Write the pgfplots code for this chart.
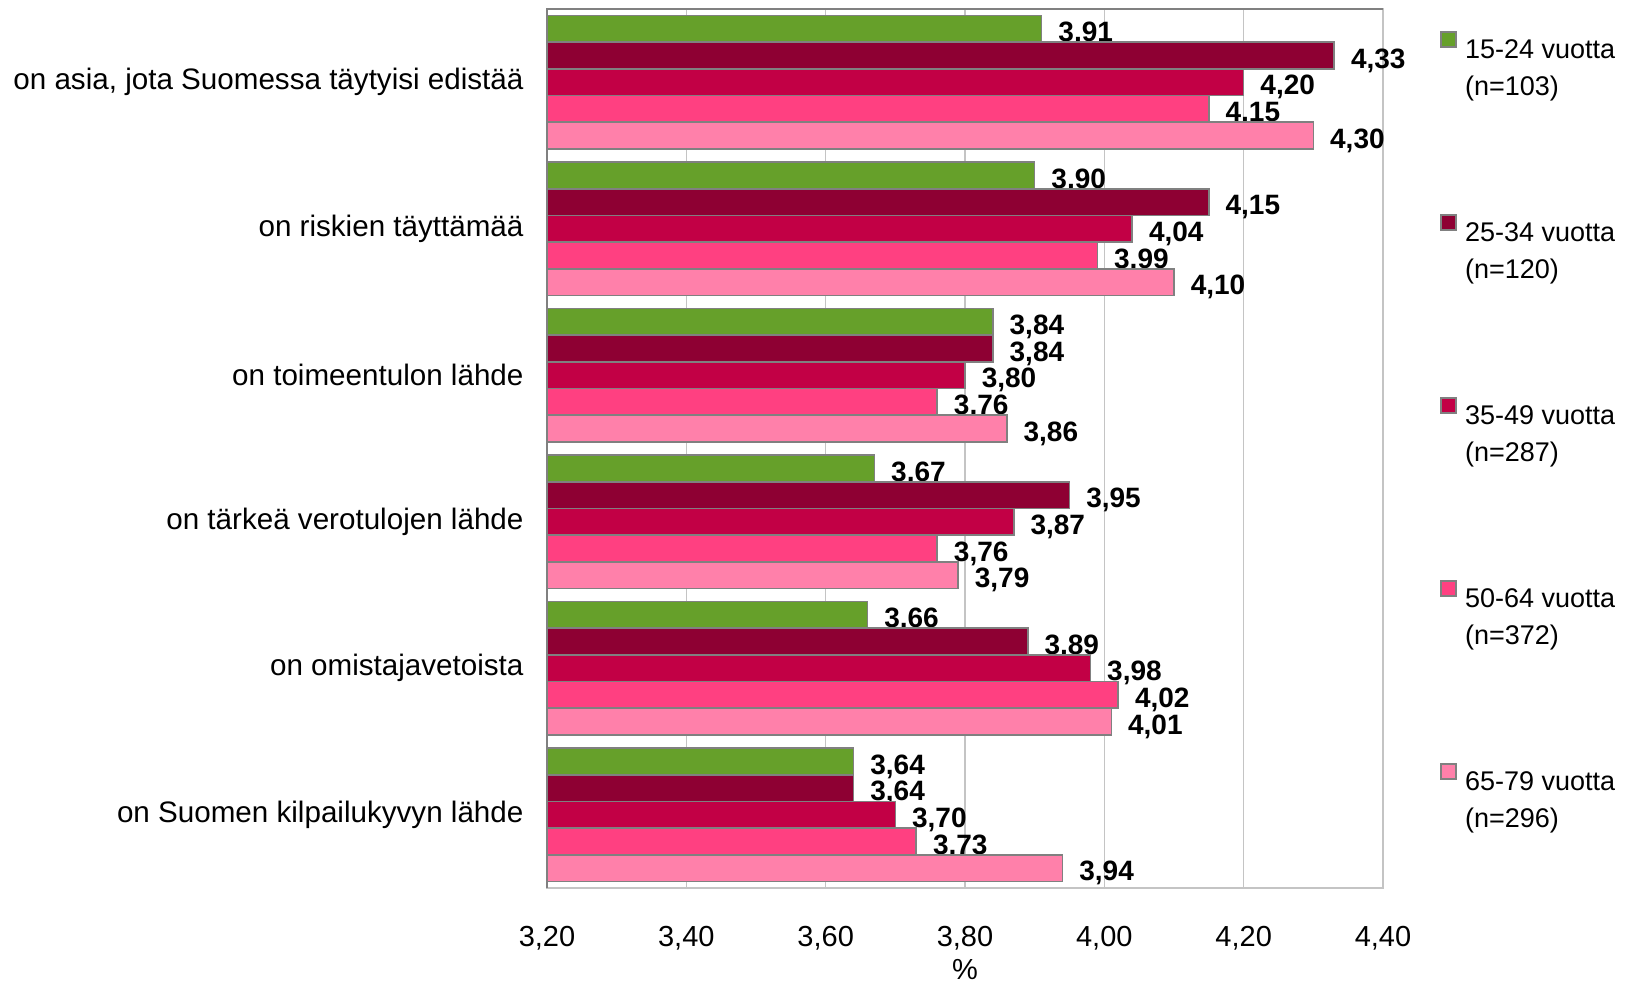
\documentclass[border=0pt]{standalone}
\usepackage{fontspec}
\setmainfont{Liberation Sans}
\usepackage{pgfplots}
\pgfplotsset{compat=1.18}
\definecolor{cA}{HTML}{66A02A}
\definecolor{cB}{HTML}{8E0033}
\definecolor{cC}{HTML}{C20045}
\definecolor{cD}{HTML}{FF4081}
\definecolor{cE}{HTML}{FF80AA}
\definecolor{bord}{HTML}{808080}
\definecolor{gridc}{HTML}{C4C4C4}
\newcommand{\leg}[2]{\begin{tabular}[t]{@{}l@{}}#1\\[2pt]#2\end{tabular}}
\pgfplotsset{mylegend/.style={legend image code/.code={\draw[##1, line width=0.8pt, draw=bord] (0pt,1pt) rectangle (7.5pt,8.5pt);}}}
\pgfplotstableread{
y v
0 3.91
1 3.90
2 3.84
3 3.67
4 3.66
5 3.64
}\tA
\pgfplotstableread{
y v
0 4.33
1 4.15
2 3.84
3 3.95
4 3.89
5 3.64
}\tB
\pgfplotstableread{
y v
0 4.20
1 4.04
2 3.80
3 3.87
4 3.98
5 3.70
}\tC
\pgfplotstableread{
y v
0 4.15
1 3.99
2 3.76
3 3.76
4 4.02
5 3.73
}\tD
\pgfplotstableread{
y v
0 4.30
1 4.10
2 3.86
3 3.79
4 4.01
5 3.94
}\tE
\begin{document}
\begin{tikzpicture}
\useasboundingbox (0,0) rectangle (820.5pt,491.5pt);
\begin{axis}[
 at={(273.5pt,47.5pt)}, anchor=south west,
 scale only axis, width=418pt, height=439.5pt,
 xbar, bar width=0.182,
 xmin=3.2, xmax=4.4, ymin=-0.5, ymax=5.5, y dir=reverse,
 clip mode=individual,
 xtick={3.2,3.4,3.6,3.8,4.0,4.2,4.4},
 xticklabel={\pgfmathprintnumber[fixed,fixed zerofill,precision=2,use comma,assume math mode=true]{\tick}},
 xticklabel style={font=\fontsize{14.5}{17}\selectfont, anchor=center, inner sep=0pt, yshift=-25.2pt},
 ytick={0,1,2,3,4,5},
 yticklabels={{on asia, jota Suomessa täytyisi edistää}, {on riskien täyttämää}, {on toimeentulon lähde}, {on tärkeä verotulojen lähde}, {on omistajavetoista}, {on Suomen kilpailukyvyn lähde}},
 yticklabel style={font=\fontsize{14.8}{17.5}\selectfont, anchor=east, inner sep=0pt, xshift=-7.3pt},
 tick style={draw=none},
 xmajorgrids, major grid style={gridc, line width=0.8pt},
 axis line style={gridc, line width=0.8pt},
 xlabel={\%},
 xlabel style={at={(axis description cs:0.5,0)}, anchor=center, inner sep=0pt, yshift=-40.6pt, font=\fontsize{14.5}{17}\selectfont},
 nodes near coords={\pgfmathprintnumber[fixed,fixed zerofill,precision=2,use comma,assume math mode=true]{\pgfplotspointmeta}},
 nodes near coords style={font=\fontsize{14}{16}\selectfont\bfseries, anchor=west, inner sep=0pt, xshift=8pt, yshift=-2.5pt, text=black},
 legend style={at={(axis description cs:1.0687,0.975)}, anchor=north west, draw=none, fill=none, inner sep=0pt, outer sep=0pt, row sep=76.2pt, column sep=4pt, font=\fontsize{13.5}{16.2}\selectfont, nodes={inner sep=0pt}},
 legend cell align=left,
]
\addplot[fill=cA, draw=bord, line width=0.8pt, bar shift=-0.364, mylegend] table[x=v,y=y] {\tA};
\addlegendentry{\leg{15-24 vuotta}{(n=103)}}
\addplot[fill=cB, draw=bord, line width=0.8pt, bar shift=-0.182, mylegend] table[x=v,y=y] {\tB};
\addlegendentry{\leg{25-34 vuotta}{(n=120)}}
\addplot[fill=cC, draw=bord, line width=0.8pt, bar shift=0, mylegend] table[x=v,y=y] {\tC};
\addlegendentry{\leg{35-49 vuotta}{(n=287)}}
\addplot[fill=cD, draw=bord, line width=0.8pt, bar shift=0.182, mylegend] table[x=v,y=y] {\tD};
\addlegendentry{\leg{50-64 vuotta}{(n=372)}}
\addplot[fill=cE, draw=bord, line width=0.8pt, bar shift=0.364, mylegend] table[x=v,y=y] {\tE};
\addlegendentry{\leg{65-79 vuotta}{(n=296)}}
\draw[bord, line width=1pt] (axis description cs:0,0) -- (axis description cs:0,1) -- (axis description cs:1,1);
\end{axis}
\end{tikzpicture}
\end{document}
